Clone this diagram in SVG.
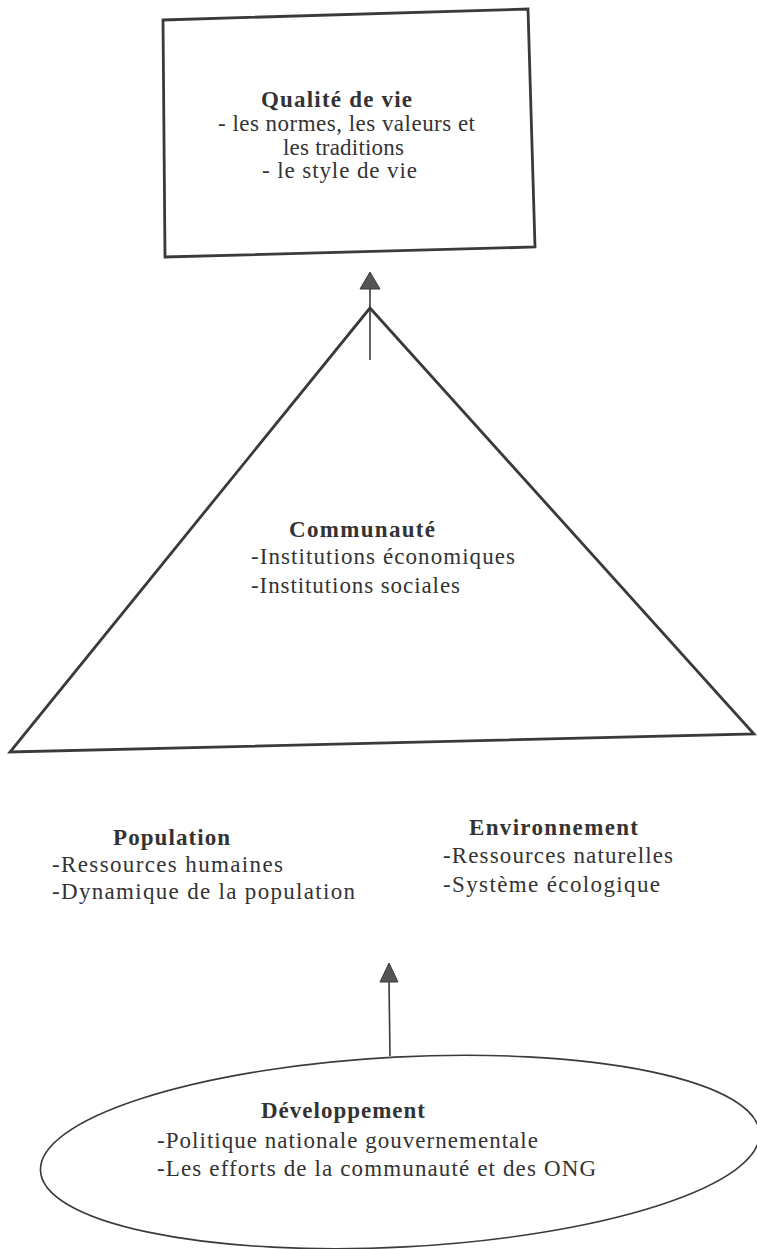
<svg xmlns="http://www.w3.org/2000/svg" width="757" height="1249" viewBox="0 0 757 1249">
<style>
.t{font-family:"Liberation Serif","Times New Roman",serif;font-size:23px;fill:#333}
.b{font-weight:bold}
.sh{fill:none;stroke:#3a3a3a;stroke-linejoin:miter}
.ar{fill:#555;stroke:#3a3a3a;stroke-width:1}
.ln{stroke:#3a3a3a;stroke-width:1.6;fill:none}
</style>
<rect width="757" height="1249" fill="#ffffff"/>
<g id="qualite">
<polygon class="sh" stroke-width="2.8" points="163,20 528,9 535,247 165,257"/>
<text class="t b" x="261" y="107" textLength="151">Qualité de vie</text>
<text class="t" x="218" y="131" textLength="257">- les normes, les valeurs et</text>
<text class="t" x="283" y="155" textLength="121">les traditions</text>
<text class="t" x="262" y="178" textLength="155">- le style de vie</text>
</g>
<g id="communaute">
<polygon class="sh" stroke-width="2.8" points="370,308 754,734 10,752"/>
<text class="t b" x="289" y="537" textLength="146">Communauté</text>
<text class="t" x="251" y="564" textLength="264">-Institutions économiques</text>
<text class="t" x="251" y="593" textLength="209">-Institutions sociales</text>
</g>
<g id="population">
<text class="t b" x="113" y="845" textLength="117">Population</text>
<text class="t" x="52" y="872" textLength="231">-Ressources humaines</text>
<text class="t" x="52" y="899" textLength="303">-Dynamique de la population</text>
</g>
<g id="environnement">
<text class="t b" x="469" y="835" textLength="169">Environnement</text>
<text class="t" x="443" y="863" textLength="230">-Ressources naturelles</text>
<text class="t" x="443" y="892" textLength="217">-Système écologique</text>
</g>
<g id="developpement">
<ellipse class="sh" stroke-width="1.6" cx="400" cy="1152" rx="360" ry="95" transform="rotate(-3 400 1152)"/>
<text class="t b" x="261" y="1118" textLength="164">Développement</text>
<text class="t" x="157" y="1148" textLength="381">-Politique nationale gouvernementale</text>
<text class="t" x="157" y="1176" textLength="439">-Les efforts de la communauté et des ONG</text>
</g>
<g id="connectors">
<line class="ln" x1="370" y1="360" x2="370" y2="288"/>
<polygon class="ar" points="370,272 380,289 360,289"/>
<line class="ln" x1="390" y1="1056" x2="389" y2="981"/>
<polygon class="ar" points="389,963 398,982 380,982"/>
</g>
</svg>
